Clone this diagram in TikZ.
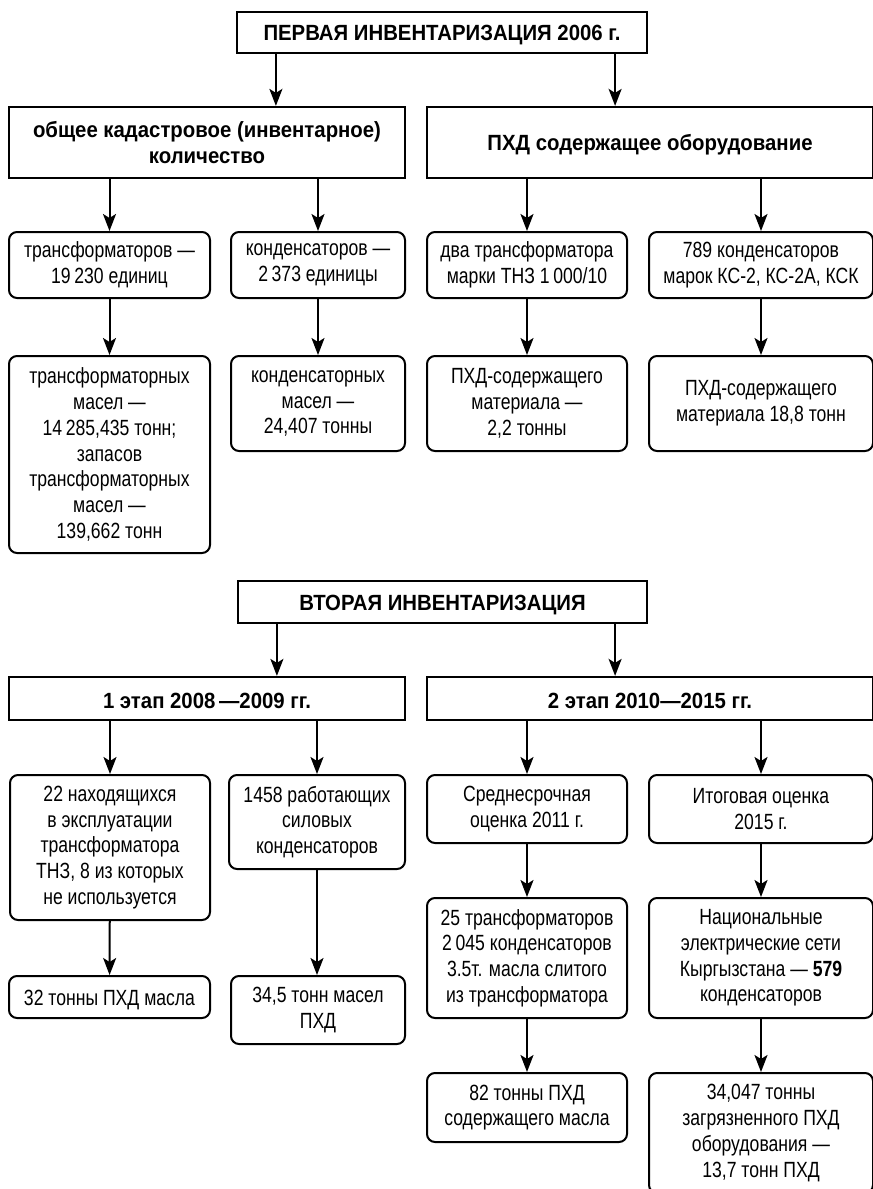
\documentclass[tikz,border=0pt]{standalone}
\usepackage{fontspec}
\setmainfont{Liberation Sans}[FakeStretch=0.80]
\newfontfamily\headfont{Liberation Sans}[FakeStretch=0.925]
\usetikzlibrary{arrows.meta}

\tikzset{
  headbox/.style={draw, line width=2.2pt, align=center, inner sep=0pt,
    font=\headfont\bfseries\fontsize{22}{25.7}\selectfont,
    execute at begin node={\rule{0pt}{21pt}}},
  itembox/.style={draw, line width=2pt, rounded corners=8pt, align=center, inner sep=0pt,
    font=\fontsize{22}{25.7}\selectfont,
    execute at begin node={\rule{0pt}{22pt}}},
  arr/.style={line width=2pt, -{Stealth[length=17pt, width=13pt, inset=4pt]}},
}

\begin{document}
\begin{tikzpicture}[x=1pt, y=-1pt]
\useasboundingbox (0,0) rectangle (873,1189);

% первая инвентаризация
\node[headbox, minimum width=410pt, minimum height=41pt] (top1) at (442,32.5) {ПЕРВАЯ ИНВЕНТАРИЗАЦИЯ 2006 г.};
\node[headbox, minimum width=396pt, minimum height=71pt] (kol) at (207,142.5) {общее кадастровое (инвентарное)\\количество};
\node[headbox, minimum width=446pt, minimum height=71pt] (obor) at (650,142.5) {ПХД содержащее оборудование};

\node[itembox, minimum width=201pt, minimum height=66pt] (trans) at (109.5,265) {трансформаторов —\\19\,230 единиц};
\node[itembox, minimum width=174pt, minimum height=66pt] (kond) at (318,265) {конденсаторов —\\2\,373 единицы};
\node[itembox, minimum width=200pt, minimum height=66pt] (tnz) at (527,265) {два трансформатора\\марки ТНЗ 1\,000/10};
\node[itembox, minimum width=224pt, minimum height=66pt] (ksk) at (761,265) {789 конденсаторов\\марок КС-2, КС-2А, КСК};

\node[itembox, minimum width=201pt, minimum height=197pt] (transmas) at (109.5,454.5) {трансформаторных\\масел —\\14\,285,435 тонн;\\запасов\\трансформаторных\\масел —\\139,662 тонн};
\node[itembox, minimum width=174pt, minimum height=95pt] (kondmas) at (318,403.5) {конденсаторных\\масел —\\24,407 тонны};
\node[itembox, minimum width=200pt, minimum height=95pt] (tnzmat) at (527,403.5) {ПХД-содержащего\\материала —\\2,2 тонны};
\node[itembox, minimum width=224pt, minimum height=95pt] (kskmat) at (761,403.5) {ПХД-содержащего\\материала 18,8 тонн};

\draw[arr] ([xshift=40pt]top1.south west) -- ([xshift=40pt]top1.south west |- kol.north);
\draw[arr] ([xshift=-33pt]top1.south east) -- ([xshift=-33pt]top1.south east |- obor.north);
\draw[arr] (trans.north |- kol.south) -- (trans.north);
\draw[arr] (kond.north |- kol.south) -- (kond.north);
\draw[arr] (tnz.north |- obor.south) -- (tnz.north);
\draw[arr] (ksk.north |- obor.south) -- (ksk.north);
\draw[arr] (trans) -- (transmas);
\draw[arr] (kond) -- (kondmas);
\draw[arr] (tnz) -- (tnzmat);
\draw[arr] (ksk) -- (kskmat);

% вторая инвентаризация
\node[headbox, minimum width=409pt, minimum height=42pt] (top2) at (442.5,602) {ВТОРАЯ ИНВЕНТАРИЗАЦИЯ};
\node[headbox, minimum width=396pt, minimum height=43pt] (etap1) at (207,698.5) {1 этап 2008\,—2009 гг.};
\node[headbox, minimum width=446pt, minimum height=43pt] (etap2) at (650,698.5) {2 этап 2010—2015 гг.};

\node[itembox, minimum width=200pt, minimum height=145pt] (expl) at (110,847.5) {22 находящихся\\в эксплуатации\\трансформатора\\ТНЗ, 8 из которых\\не используется};
\node[itembox, minimum width=176pt, minimum height=94pt] (silov) at (317,822) {1458 работающих\\силовых\\конденсаторов};
\node[itembox, minimum width=200pt, minimum height=68pt] (sred) at (527,809) {Среднесрочная\\оценка 2011 г.};
\node[itembox, minimum width=224pt, minimum height=68pt] (itog) at (761,809) {Итоговая оценка\\2015 г.};

\node[itembox, minimum width=201pt, minimum height=42pt] (explmas) at (109.5,997) {32 тонны ПХД масла};
\node[itembox, minimum width=174pt, minimum height=68pt] (silovmas) at (318,1010) {34,5 тонн масел\\ПХД};
\node[itembox, minimum width=200pt, minimum height=120pt] (sredsost) at (527,958) {25 трансформаторов\\2\,045 конденсаторов\\3.5т. масла слитого\\из трансформатора};
\node[itembox, minimum width=224pt, minimum height=120pt] (itogsost) at (761,958) {Национальные\\электрические сети\\Кыргызстана — \textbf{579}\\конденсаторов};

\node[itembox, minimum width=200pt, minimum height=69pt] (sredmas) at (527,1107.5) {82 тонны ПХД\\содержащего масла};
\node[itembox, minimum width=224pt, minimum height=120pt] (itogmas) at (761,1133) {34,047 тонны\\загрязненного ПХД\\оборудования —\\13,7 тонн ПХД};

\draw[arr] ([xshift=40pt]top2.south west) -- ([xshift=40pt]top2.south west |- etap1.north);
\draw[arr] ([xshift=-33pt]top2.south east) -- ([xshift=-33pt]top2.south east |- etap2.north);
\draw[arr] (expl.north |- etap1.south) -- (expl.north);
\draw[arr] (silov.north |- etap1.south) -- (silov.north);
\draw[arr] (sred.north |- etap2.south) -- (sred.north);
\draw[arr] (itog.north |- etap2.south) -- (itog.north);
\draw[arr] (expl) -- (explmas);
\draw[arr] (silov) -- (silov.south |- silovmas.north);
\draw[arr] (sred) -- (sredsost);
\draw[arr] (itog) -- (itogsost);
\draw[arr] (sredsost) -- (sredmas);
\draw[arr] (itogsost) -- (itogmas);
\end{tikzpicture}
\end{document}
